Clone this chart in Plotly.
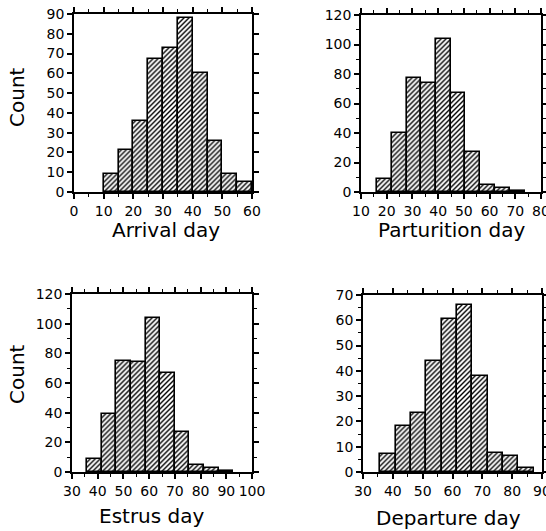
import plotly.graph_objects as go

# ---- data ----
arrival_edges = [10, 15, 20, 25, 30, 35, 40, 45, 50, 55, 60]
arrival_counts = [9, 21, 36, 67, 73, 88, 60, 26, 9, 5]

parturition_edges = [16.2, 21.9, 27.7, 33.4, 39.2, 44.9, 50.6, 56.4, 62.1, 67.8, 73.6]
parturition_counts = [9, 40, 77, 74, 104, 67, 27, 5, 3, 1]

estrus_edges = [35.8, 41.5, 47.2, 52.9, 58.6, 64.2, 69.9, 75.6, 81.3, 87.0, 92.7]
estrus_counts = [9, 39, 75, 74, 104, 67, 27, 5, 3, 1]

departure_edges = [35.8, 40.9, 46.1, 51.2, 56.4, 61.5, 66.6, 71.8, 76.9, 82.1, 87.2]
departure_counts = [7, 18, 23.5, 44, 60.5, 66, 38, 7.5, 6.5, 1.7]

titles = ["Arrival day", "Parturition day", "Estrus day", "Departure day"]

W, H = 546, 531
FONT = "DejaVu Sans"

def fx(px):
    return px / W

def fy(py):
    return 1 - py / H

panels = [
    # edges, counts, xrange, yrange, xdtick, ydtick, yminor, domain px (x0,x1,y0,y1)
    (arrival_edges, arrival_counts, [0, 60], [0, 90], 10, 10, None, (74, 252, 14, 192)),
    (parturition_edges, parturition_counts, [10, 80], [0, 120], 10, 20, 10, (361, 541, 15, 192)),
    (estrus_edges, estrus_counts, [30, 100], [0, 120], 10, 20, 10, (72, 252, 294, 472)),
    (departure_edges, departure_counts, [30, 90], [0, 70], 10, 10, 5, (363, 542, 295, 472)),
]

fig = go.Figure()
layout = {}
for i, (edges, counts, xr, yr, xd, yd, ym, dom) in enumerate(panels):
    n = i + 1
    centers = [(edges[k] + edges[k + 1]) / 2 for k in range(len(counts))]
    widths = [edges[k + 1] - edges[k] for k in range(len(counts))]
    fig.add_trace(go.Bar(
        x=centers, y=counts, width=widths,
        xaxis=f"x{n}", yaxis=f"y{n}",
        marker=dict(color="white",
                    line=dict(color="black", width=1.6),
                    pattern=dict(shape="/", fgcolor="black", bgcolor="white",
                                 size=3.5, solidity=0.4)),
        showlegend=False, hoverinfo="skip",
    ))
    x0, x1, y0, y1 = dom
    common = dict(showline=True, linecolor="black", linewidth=1.6, mirror="ticks",
                  ticks="outside", ticklen=5, tickwidth=1.5, tickcolor="black",
                  showgrid=False, zeroline=False, fixedrange=True, automargin=False,
                  ticklabeloverflow="allow",
                  tickfont=dict(family=FONT, size=14, color="black"))
    xa = dict(common, range=xr, dtick=xd, tick0=0, domain=[fx(x0), fx(x1)],
              anchor=f"y{n}",
              minor=dict(dtick=5, ticks="outside", ticklen=3, tickwidth=1.2, tickcolor="black"))
    ya = dict(common, range=yr, dtick=yd, tick0=0, domain=[fy(y1), fy(y0)],
              anchor=f"x{n}")
    if ym:
        ya["minor"] = dict(dtick=ym, ticks="outside", ticklen=3, tickwidth=1.2, tickcolor="black")
    layout["xaxis" if n == 1 else f"xaxis{n}"] = xa
    layout["yaxis" if n == 1 else f"yaxis{n}"] = ya

ann = []
title_pos = [(166, 230), (452, 230), (152, 516), (448, 518)]
for t, (px, py) in zip(titles, title_pos):
    ann.append(dict(text=t, x=fx(px), y=fy(py), xref="paper", yref="paper",
                    showarrow=False, xanchor="center", yanchor="middle",
                    font=dict(family=FONT, size=20, color="black")))
for py in (97, 374):
    ann.append(dict(text="Count", x=fx(17), y=fy(py), xref="paper", yref="paper",
                    showarrow=False, textangle=-90, xanchor="center", yanchor="middle",
                    font=dict(family=FONT, size=20, color="black")))

fig.update_layout(**layout)
fig.update_layout(template="none", width=W, height=H, margin=dict(l=0, r=0, t=0, b=0, pad=0),
                  paper_bgcolor="white", plot_bgcolor="white",
                  bargap=0, annotations=ann)

fig.write_html("out.html", config={"displayModeBar": False},
               post_script="document.body.style.margin='0px';")
